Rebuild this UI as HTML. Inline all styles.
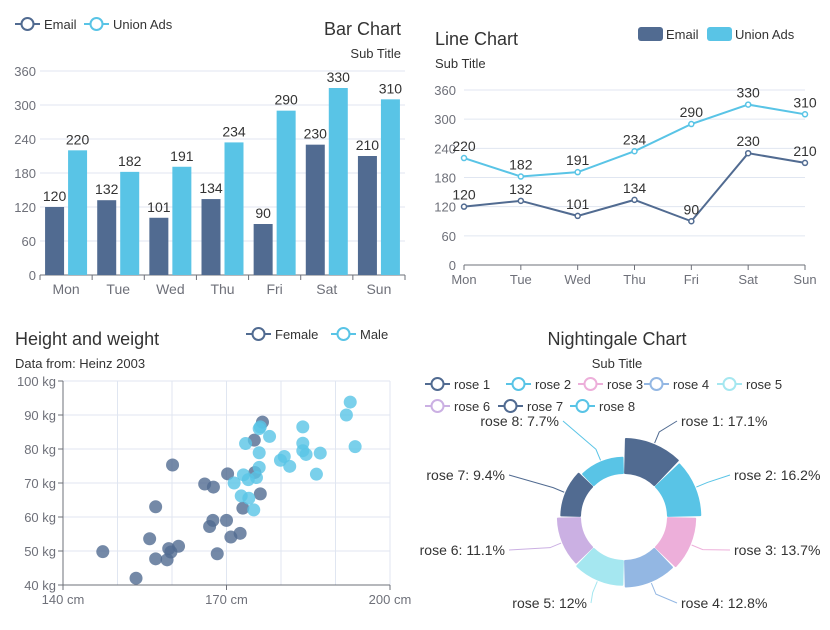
<!DOCTYPE html>
<html><head><meta charset="utf-8"><style>
body{margin:0;background:#fff;}
svg{display:block;font-family:"Liberation Sans",sans-serif;}
</style></head><body>
<svg id="s" width="830" height="630"></svg>
<script>
const barDays=['Mon','Tue','Wed','Thu','Fri','Sat','Sun'];
const emailVals=[120,132,101,134,90,230,210];
const unionVals=[220,182,191,234,290,330,310];
const barTicks=[0,60,120,180,240,300,360];
const femaleH=[147.3,153.4,155.9,157,157,159.1,159.4,159.8,161.2,160.1,166,167.6,166.9,167.5,168.3,170,170.2,170.8,172.5,173,175.1,175.2,176.2,176.6];
const femaleW=[49.8,42,53.6,63,47.7,47.4,50.7,49.7,51.4,75.3,69.7,68.8,57.2,59,49.2,59,72.7,54.1,55.2,62.6,82.6,73.1,66.8,87.9];
const maleH=[171.4,172.7,174.1,174,173.1,173.5,175,175.5,176,176,176,176.2,177.9,179.9,180.6,181.6,184,184,184,184.6,187.2,186.5,192,192.7,193.6];
const maleW=[70,66.2,65.5,71,72.4,81.6,62.1,71.6,74.6,78.9,86,86.5,83.7,76.7,77.8,74.9,86.5,81.7,79.5,78.4,78.8,72.6,90,93.8,80.7];
const roseNames=['rose 1','rose 2','rose 3','rose 4','rose 5','rose 6','rose 7','rose 8'];
const roseVals=[40,38,32,30,28,26,22,18];

const S=document.getElementById('s');const NS='http://www.w3.org/2000/svg';
function el(t,a,p){const e=document.createElementNS(NS,t);for(const k in a)e.setAttribute(k,a[k]);(p||S).appendChild(e);return e;}
function txt(x,y,s,a,p){const e=el('text',Object.assign({x:x,y:y,'font-size':13,fill:'#6e7079'},a||{}),p);e.textContent=s;return e;}
const C1='#516b91',C2='#59c4e6';

function legendLine(x,y,c,label,name){
 const g=el('g',{});
 el('line',{x1:x,y1:y,x2:x+25,y2:y,stroke:c,'stroke-width':2},g);
 el('circle',{cx:x+12.5,cy:y,r:6,fill:'#fff',stroke:c,'stroke-width':2},g);
 txt(x+29,y+5,label,{fill:'#333',"font-size":13},g);}
function legendRect(x,y,c,label,name){
 const g=el('g',{});
 el('rect',{x:x,y:y-7,width:25,height:14,rx:3,fill:c},g);
 txt(x+28,y+5,label,{fill:'#333',"font-size":13},g);}

// ===== Bar chart =====
{const x0=40,x1=405,yb=275,yt=71;const yS=v=>yb-(v/360)*(yb-yt);const bw=(x1-x0)/barDays.length;
const g=el('g',{});
barTicks.forEach(t=>{if(t>0)el('line',{x1:x0,x2:x1,y1:yS(t),y2:yS(t),stroke:'#e0e6f1'},g);txt(x0-4,yS(t)+5,t,{'text-anchor':'end'},g);});
el('line',{x1:x0,x2:x1,y1:yb,y2:yb,stroke:'#6e7079'},g);
for(let i=0;i<=barDays.length;i++)el('line',{x1:x0+i*bw,x2:x0+i*bw,y1:yb,y2:yb+5,stroke:'#6e7079'},g);
barDays.forEach((d,i)=>{const cx=x0+bw*(i+0.5);
 const b1=el('rect',{x:cx-21,y:yS(emailVals[i]),width:19,height:yb-yS(emailVals[i]),fill:C1},g);
 
 const b2=el('rect',{x:cx+2,y:yS(unionVals[i]),width:19,height:yb-yS(unionVals[i]),fill:C2},g);
 
 txt(cx-11.5,yS(emailVals[i])-6,emailVals[i],{'text-anchor':'middle',fill:'#333',"font-size":14},g);
 txt(cx+11.5,yS(unionVals[i])-6,unionVals[i],{'text-anchor':'middle',fill:'#333',"font-size":14},g);
 txt(cx,yb+19,d,{'text-anchor':'middle',"font-size":14},g);});
legendLine(15,24,C1,'Email','legend-email');legendLine(84,24,C2,'Union Ads','legend-union-ads');
const t=txt(401,35,'Bar Chart',{'text-anchor':'end','font-size':18,fill:'#333'});
txt(401,58,'Sub Title',{'text-anchor':'end',fill:'#333'});}

// ===== Line chart =====
{const x0=464,x1=805,yb=265,yt=90;const yS=v=>yb-(v/360)*(yb-yt);const xS=i=>x0+i*(x1-x0)/(barDays.length-1);
const g=el('g',{});
barTicks.forEach(t=>{if(t>0)el('line',{x1:x0,x2:x1,y1:yS(t),y2:yS(t),stroke:'#e0e6f1'},g);txt(x0-8,yS(t)+5,t,{'text-anchor':'end'},g);});
el('line',{x1:x0,x2:x1,y1:yb,y2:yb,stroke:'#6e7079'},g);
barDays.forEach((d,i)=>{el('line',{x1:xS(i),x2:xS(i),y1:yb,y2:yb+5,stroke:'#6e7079'},g);txt(xS(i),yb+19,d,{'text-anchor':'middle'},g);});
[[emailVals,C1,'email'],[unionVals,C2,'union']].forEach(([vals,c,n])=>{
 const p=el('polyline',{points:vals.map((v,i)=>xS(i)+','+yS(v)).join(' '),fill:'none',stroke:c,'stroke-width':2},g);
 
 vals.forEach((v,i)=>{const pt=el('circle',{cx:xS(i),cy:yS(v),r:2.5,fill:'#fff',stroke:c,'stroke-width':1.5},g);
 
 txt(xS(i),yS(v)-7,v,{'text-anchor':'middle',fill:'#333',"font-size":14},g);});});
legendRect(638,34,C1,'Email','legend-email-line');legendRect(707,34,C2,'Union Ads','legend-union-ads-line');
const t=txt(435,45,'Line Chart',{'font-size':18,fill:'#333'});
txt(435,68,'Sub Title',{fill:'#333'});}

// ===== Scatter =====
{const x0=63,x1=390,yb=585,yt=381;const xS=v=>x0+(v-140)/60*(x1-x0);const yS=v=>yb-(v-40)/60*(yb-yt);
const g=el('g',{});
for(let v=40;v<=100;v+=10){if(v>40)el('line',{x1:x0,x2:x1,y1:yS(v),y2:yS(v),stroke:'#e0e6f1'},g);el('line',{x1:x0-5,x2:x0,y1:yS(v),y2:yS(v),stroke:'#6e7079'},g);txt(x0-7,yS(v)+5,v+' kg',{'text-anchor':'end'},g);}
for(let v=150;v<=200;v+=10)el('line',{x1:xS(v),x2:xS(v),y1:yt,y2:yb,stroke:'#e0e6f1'},g);
el('line',{x1:x0,x2:x0,y1:yt,y2:yb,stroke:'#6e7079'},g);el('line',{x1:x0,x2:x1,y1:yb,y2:yb,stroke:'#6e7079'},g);
[140,170,200].forEach(v=>{el('line',{x1:xS(v),x2:xS(v),y1:yb,y2:yb+5,stroke:'#6e7079'},g);txt(xS(v),yb+19,v+' cm',{'text-anchor':'middle'},g);});
femaleH.forEach((h,i)=>{const c=el('circle',{cx:xS(h),cy:yS(femaleW[i]),r:6.5,fill:C1,'fill-opacity':0.8},g);});
maleH.forEach((h,i)=>{const c=el('circle',{cx:xS(h),cy:yS(maleW[i]),r:6.5,fill:C2,'fill-opacity':0.8},g);});
legendLine(246,334,C1,'Female','legend-female');legendLine(331,334,C2,'Male','legend-male');
const t=txt(15,345,'Height and weight',{'font-size':18,fill:'#333'});
txt(15,368,'Data from: Heinz 2003',{fill:'#333'});}

// ===== Nightingale =====
{const cx=624,cy=517,r0=44,r1=78;const roseCols=['#516b91','#59c4e6','#edafda','#93b7e3','#a5e7f0','#cbb0e3','#516b91','#59c4e6'];
const g=el('g',{});
const mx=Math.max(...roseVals),sum=roseVals.reduce((a,b)=>a+b,0);const n=roseVals.length;const pad=0.025;
const pt=(r,a)=>[cx+r*Math.sin(a),cy-r*Math.cos(a)];
const lblPos=[[681,426,'start'],[734,480,'start'],[734,555,'start'],[681,608,'start'],[587,608,'end'],[505,555,'end'],[505,480,'end'],[559,426,'end']];
roseVals.forEach((v,i)=>{const a0=i*2*Math.PI/n+pad,a1=(i+1)*2*Math.PI/n-pad;const R=r0+(v/mx)*(r1-r0);
 const p1=pt(R,a0),p2=pt(R,a1),p3=pt(r0,a1),p4=pt(r0,a0);
 const s=el('path',{d:`M${p1}A${R},${R} 0 0 1 ${p2}L${p3}A${r0},${r0} 0 0 0 ${p4}Z`,fill:roseCols[i],stroke:roseCols[i],'stroke-width':2,'stroke-linejoin':'round'},g);
 
 const am=(a0+a1)/2;const e=pt(R+2,am),m=pt(R+14,am);const [lx,ly,an]=lblPos[i];const ex=an==='start'?lx-4:lx+4;
 el('polyline',{points:`${e} ${m} ${ex},${ly-5}`,fill:'none',stroke:roseCols[i],'stroke-width':1},g);
 txt(lx,ly,roseNames[i]+': '+(Math.round(v/sum*1000)/10)+'%',{'text-anchor':an,fill:'#333',"font-size":14},g);});
const lx=[425,506,578,644,717,425,498,570],ly=[384,384,384,384,384,406,406,406];
roseNames.forEach((nm,i)=>legendLine(lx[i],ly[i],roseCols[i],nm,'legend-rose-'+(i+1)));
const t=txt(617,345,'Nightingale Chart',{'text-anchor':'middle','font-size':18,fill:'#333'});
txt(617,368,'Sub Title',{'text-anchor':'middle',fill:'#333'});}
</script>
</body></html>
